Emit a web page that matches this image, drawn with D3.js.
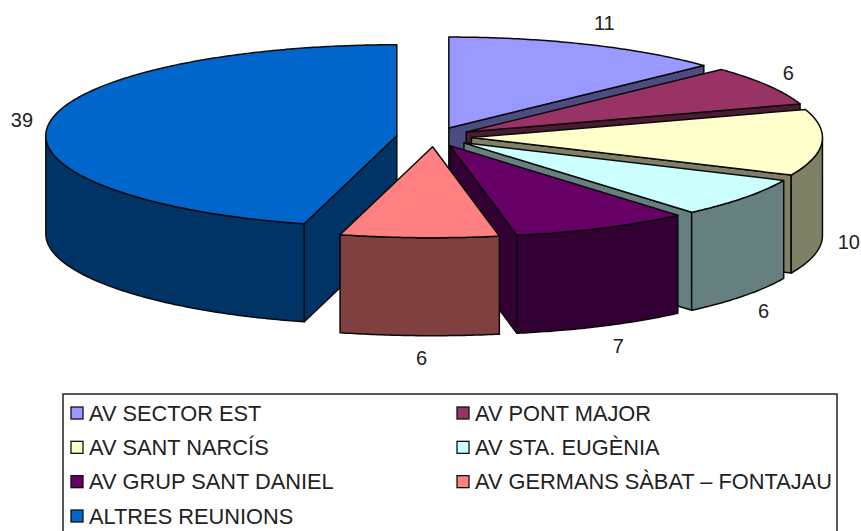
<!DOCTYPE html>
<html>
<head>
<meta charset="utf-8">
<script src="https://cdn.jsdelivr.net/npm/d3@7/dist/d3.min.js"></script>
<style>
html,body{margin:0;padding:0;background:#fff;overflow:hidden}
svg{display:block}
text{font-family:"Liberation Sans",Arial,sans-serif;fill:#222}
</style>
</head>
<body>
<svg id="c" width="861" height="531"></svg>
<script>
const categories = ["AV SECTOR EST","AV PONT MAJOR","AV SANT NARCÍS","AV STA. EUGÈNIA","AV GRUP SANT DANIEL","AV GERMANS SÀBAT – FONTAJAU","ALTRES REUNIONS"];
const values = [11,6,10,6,7,6,39];
const topColors = ["#9999FF","#993366","#FFFFCC","#CCFFFF","#660066","#FF8080","#0066CC"];
const sideColors = ["#4C4C80","#4D1A33","#808066","#668080","#330033","#804040","#003366"];

const W = 861, H = 531;
const cx = 434, cy = 137, rx = 351, ry = 91, depth = 98, explode = 37.5;
const svg = d3.select("#c");

const pie = d3.pie().sort(null).value(d => d)(values);
const slices = pie.map((p, i) => {
  const mid = (p.startAngle + p.endAngle) / 2;
  return {i, a0: p.startAngle, a1: p.endAngle, mid,
    ox: cx + explode * Math.sin(mid),
    oy: cy - explode * (ry / rx) * Math.cos(mid)};
});
// slight perspective: the nearest part of the rim is drawn a little wider
const persp = a => 1 + 0.04 * Math.pow(Math.max(0, -Math.cos(a)), 8);
const px = (s, a) => s.ox + rx * persp(a) * Math.sin(a);
const py = (s, a, z = 0) => s.oy - ry * Math.cos(a) + z;
const line = d3.line();
const arcPts = (s, a0, a1, z = 0) => {
  const n = Math.max(2, Math.ceil((a1 - a0) / 0.01));
  return d3.range(n + 1).map(k => {
    const a = a0 + (a1 - a0) * k / n;
    return [px(s, a), py(s, a, z)];
  });
};

const order = slices.slice().sort((p, q) => Math.cos(q.mid) - Math.cos(p.mid));
const lineW = 1.5, ink = "#0a0a0a";
const draw = (d, fill) => svg.append("path").attr("d", d).attr("fill", fill)
  .attr("stroke", ink).attr("stroke-width", lineW).attr("stroke-linejoin", "round");

order.forEach(s => {
  const side = sideColors[s.i];
  const radial = a => line([[s.ox, s.oy], [px(s, a), py(s, a)], [px(s, a), py(s, a, depth)], [s.ox, s.oy + depth]]) + "Z";
  if (Math.sin(s.a0) < -1e-6) draw(radial(s.a0), side);
  if (Math.sin(s.a1) > 1e-6) draw(radial(s.a1), side);
  const f0 = Math.max(s.a0, Math.PI / 2), f1 = Math.min(s.a1, Math.PI * 1.5);
  if (f1 > f0) {
    const pts = arcPts(s, f0, f1).concat(arcPts(s, f0, f1, depth).reverse());
    draw(line(pts) + "Z", side);
  }
  draw(line([[s.ox, s.oy]].concat(arcPts(s, s.a0, s.a1))) + "Z", topColors[s.i]);
});

// value labels
const labelR = 378, labelRy = 114;
const nudge = [[6,0],[-3,-1],[0,0],[-2,1],[6,-1],[3,-1],[0,-1]];
slices.forEach(s => {
  svg.append("text")
    .attr("x", s.ox + labelR * Math.sin(s.mid) + nudge[s.i][0])
    .attr("y", s.oy - labelRy * Math.cos(s.mid) + (Math.cos(s.mid) < 0 ? depth : 0) + nudge[s.i][1])
    .attr("text-anchor", "middle").attr("dominant-baseline", "central")
    .attr("font-size", 20).text(values[s.i]);
});

// legend
const legX = 63, legY = 394, legR = 837;
svg.append("rect").attr("x", legX).attr("y", legY).attr("width", legR - legX).attr("height", H + 20 - legY)
  .attr("fill", "#fff").attr("stroke", "#222").attr("stroke-width", 1.5);
const colX = d3.scaleOrdinal().domain([0, 1]).range([71, 457]);
const rowY = d3.scalePoint().domain([0, 1, 2, 3]).range([413, 516]);
categories.forEach((c, i) => {
  const col = i % 2, row = Math.floor(i / 2);
  svg.append("rect").attr("x", colX(col)).attr("y", rowY(row) - 6).attr("width", 12).attr("height", 12)
    .attr("fill", topColors[i]).attr("stroke", "#111").attr("stroke-width", 1.3);
  svg.append("text").attr("x", colX(col) + 18).attr("y", rowY(row))
    .attr("dominant-baseline", "central").attr("font-size", 21.8).text(c);
});
</script>
</body>
</html>
